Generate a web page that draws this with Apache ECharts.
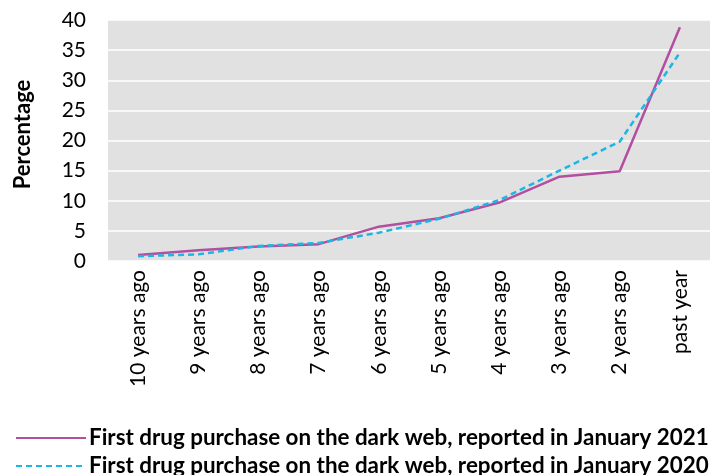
<!DOCTYPE html>
<html><head><meta charset="utf-8">
<script src="https://cdn.jsdelivr.net/npm/echarts@6/dist/echarts.min.js"></script>
<style>html,body{margin:0;padding:0;background:#fff}#c{width:710px;height:475px}</style>
</head><body><div id="c"></div>
<script>
var categories = ["10 years ago","9 years ago","8 years ago","7 years ago","6 years ago","5 years ago","4 years ago","3 years ago","2 years ago","past year"];
var series2021 = [1.0, 1.8, 2.4, 2.8, 5.7, 7.1, 9.7, 14.0, 14.9, 38.8];
var series2020 = [0.8, 1.1, 2.5, 3.0, 4.7, 7.0, 10.1, 15.0, 19.8, 34.6];
var name2021 = "First drug purchase on the dark web, reported in January 2021";
var name2020 = "First drug purchase on the dark web, reported in January 2020";
var yTicks = {min: 0, max: 40, interval: 5};
var FONT = "Lato";
var chart = echarts.init(document.getElementById('c'), null, {renderer: 'canvas'});
chart.setOption({
  animation: false,
  grid: {left: 108, right: 0, top: 20, bottom: 214, show: true, backgroundColor: '#e1e1e1', borderWidth: 0},
  legend: {
    orient: 'vertical', left: 10, top: 422, height: 60, itemWidth: 70, itemHeight: 14, itemGap: 6,
    itemStyle: {opacity: 0, borderWidth: 0},
    textStyle: {fontFamily: FONT, fontWeight: 'bold', fontSize: 22.4, lineHeight: 22, color: '#000', padding: [0, 0, 0, -2]},
    data: [name2021, name2020]
  },
  xAxis: {
    type: 'category', data: categories, boundaryGap: true,
    axisLine: {show: false}, axisTick: {show: false},
    axisLabel: {rotate: 90, margin: 9, color: '#000', fontFamily: FONT, fontSize: 21, interval: 0}
  },
  yAxis: {
    type: 'value', min: yTicks.min, max: yTicks.max, interval: yTicks.interval,
    name: 'Percentage', nameLocation: 'middle', nameGap: 74, nameRotate: 90,
    nameTextStyle: {fontFamily: FONT, fontWeight: 'bold', fontSize: 22, color: '#000', padding: [0, 0, 0, 12]},
    axisLine: {show: false}, axisTick: {show: false},
    axisLabel: {color: '#000', fontFamily: FONT, fontSize: 21, margin: 22},
    splitLine: {lineStyle: {color: '#ffffff', width: 1.5}}
  },
  series: [
    {name: name2021, type: 'line', data: series2021, symbol: 'none', lineStyle: {color: '#b24fa0', width: 2.5}, itemStyle: {color: '#b24fa0'}},
    {name: name2020, type: 'line', data: series2020, symbol: 'none', lineStyle: {color: '#1bb6e4', width: 2.5, type: [6, 4]}, itemStyle: {color: '#1bb6e4'}}
  ]
});
</script></body></html>
